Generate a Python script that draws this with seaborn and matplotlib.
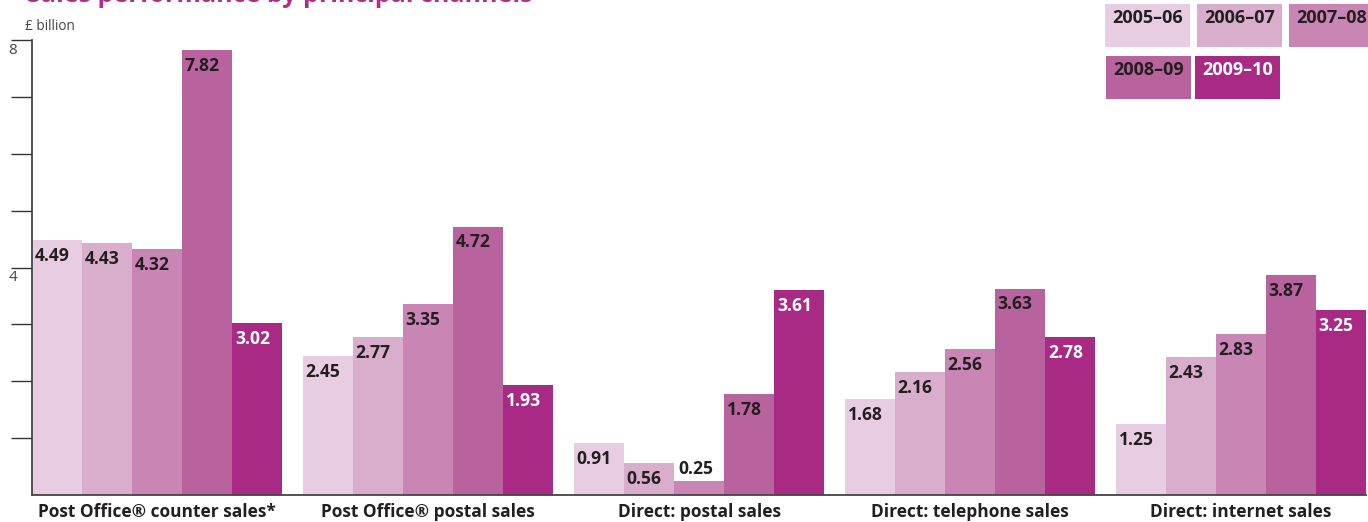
import matplotlib
matplotlib.use("Agg")
import matplotlib.pyplot as plt
import matplotlib.patches as mpatches
import matplotlib.transforms as mtransforms
import seaborn as sns
import pandas as pd

channels = ["Post Office® counter sales*", "Post Office® postal sales", "Direct: postal sales",
            "Direct: telephone sales", "Direct: internet sales"]
years = ["2005–06", "2006–07", "2007–08", "2008–09", "2009–10"]
v2005 = [4.49, 2.45, 0.91, 1.68, 1.25]
v2006 = [4.43, 2.77, 0.56, 2.16, 2.43]
v2007 = [4.32, 3.35, 0.25, 2.56, 2.83]
v2008 = [7.82, 4.72, 1.78, 3.63, 3.87]
v2009 = [3.02, 1.93, 3.61, 2.78, 3.25]
colors = ["#E8CDE2", "#D8AECC", "#C986B4", "#B8629E", "#A92A84"]
text_dark = "#231F20"

rows = []
for yr, vals in zip(years, [v2005, v2006, v2007, v2008, v2009]):
    for ch, v in zip(channels, vals):
        rows.append({"channel": ch, "year": yr, "value": v})
df = pd.DataFrame(rows)

sns.set_style("white")
plt.rcParams["font.family"] = ["Open Sans", "DejaVu Sans"]

W, H = 1368, 522
fig = plt.figure(figsize=(W / 100, H / 100), dpi=100)
ax = fig.add_axes([32 / W, 27 / H, 1334 / W, 455 / H])

sns.barplot(data=df, x="channel", y="value", hue="year", hue_order=years, order=channels,
            palette=colors, width=0.923, saturation=1, gap=0, legend=False, ax=ax,
            linewidth=0, edgecolor="none")

ax.set_xlim(-0.4613, 4.4613)
ax.set_ylim(0, 8)
ax.set_xlabel("")
ax.set_ylabel("")
for s in ["top", "right"]:
    ax.spines[s].set_visible(False)
for s in ["left", "bottom"]:
    ax.spines[s].set_color("#444444")
    ax.spines[s].set_linewidth(1.3)

ax.set_yticks(range(1, 9))
ax.set_yticklabels([])
ax.tick_params(axis="y", direction="out", length=15, width=1, color="#333333", left=True)
ax.tick_params(axis="x", length=0, pad=6)
for lab in ax.get_xticklabels():
    lab.set_fontweight("bold")
    lab.set_fontsize(12.5)
    lab.set_color(text_dark)

trans = mtransforms.blended_transform_factory(ax.transAxes, ax.transData)
for val in [8, 4]:
    ax.text(-0.0175, val - 0.05, str(val), transform=trans, ha="left", va="top",
            fontsize=11, color="#444444")

# value labels
for i, cont in enumerate(ax.containers):
    tc = "white" if i == 4 else text_dark
    for bar in cont:
        h = bar.get_height()
        if h < 0.4:
            ax.annotate(f"{h:.2f}", (bar.get_x(), h), xytext=(3, 2), textcoords="offset points",
                        ha="left", va="bottom", fontsize=12.6, fontweight="bold", color=tc)
        else:
            ax.annotate(f"{h:.2f}", (bar.get_x(), h), xytext=(2, -5), textcoords="offset points",
                        ha="left", va="top", fontsize=12.6, fontweight="bold", color=tc)

# title (cut off at top in the source) and unit label
fig.text(27 / W, 1 - 2 / H, "Sales performance by principal channels", ha="left", va="baseline",
         fontsize=18, fontweight="bold", color="#B5288C")
fig.text(25 / W, 1 - 27 / H, "£ billion", ha="left", va="center", fontsize=9.8, color="#444444")

# legend boxes
boxes = [(1105, 4), (1197, 4), (1289, 4), (1106, 56), (1195, 56)]
for (bx, by), yr, c in zip(boxes, years, colors):
    fig.patches.append(mpatches.Rectangle((bx / W, 1 - (by + 43) / H), 85 / W, 43 / H,
                                          transform=fig.transFigure, facecolor=c, edgecolor="none"))
    tc = "white" if yr == years[-1] else text_dark
    fig.text((bx + 7) / W, 1 - (by + 14) / H, yr, ha="left", va="center", fontsize=13,
             fontweight="bold", color=tc)

fig.savefig("out.png", dpi=100)
